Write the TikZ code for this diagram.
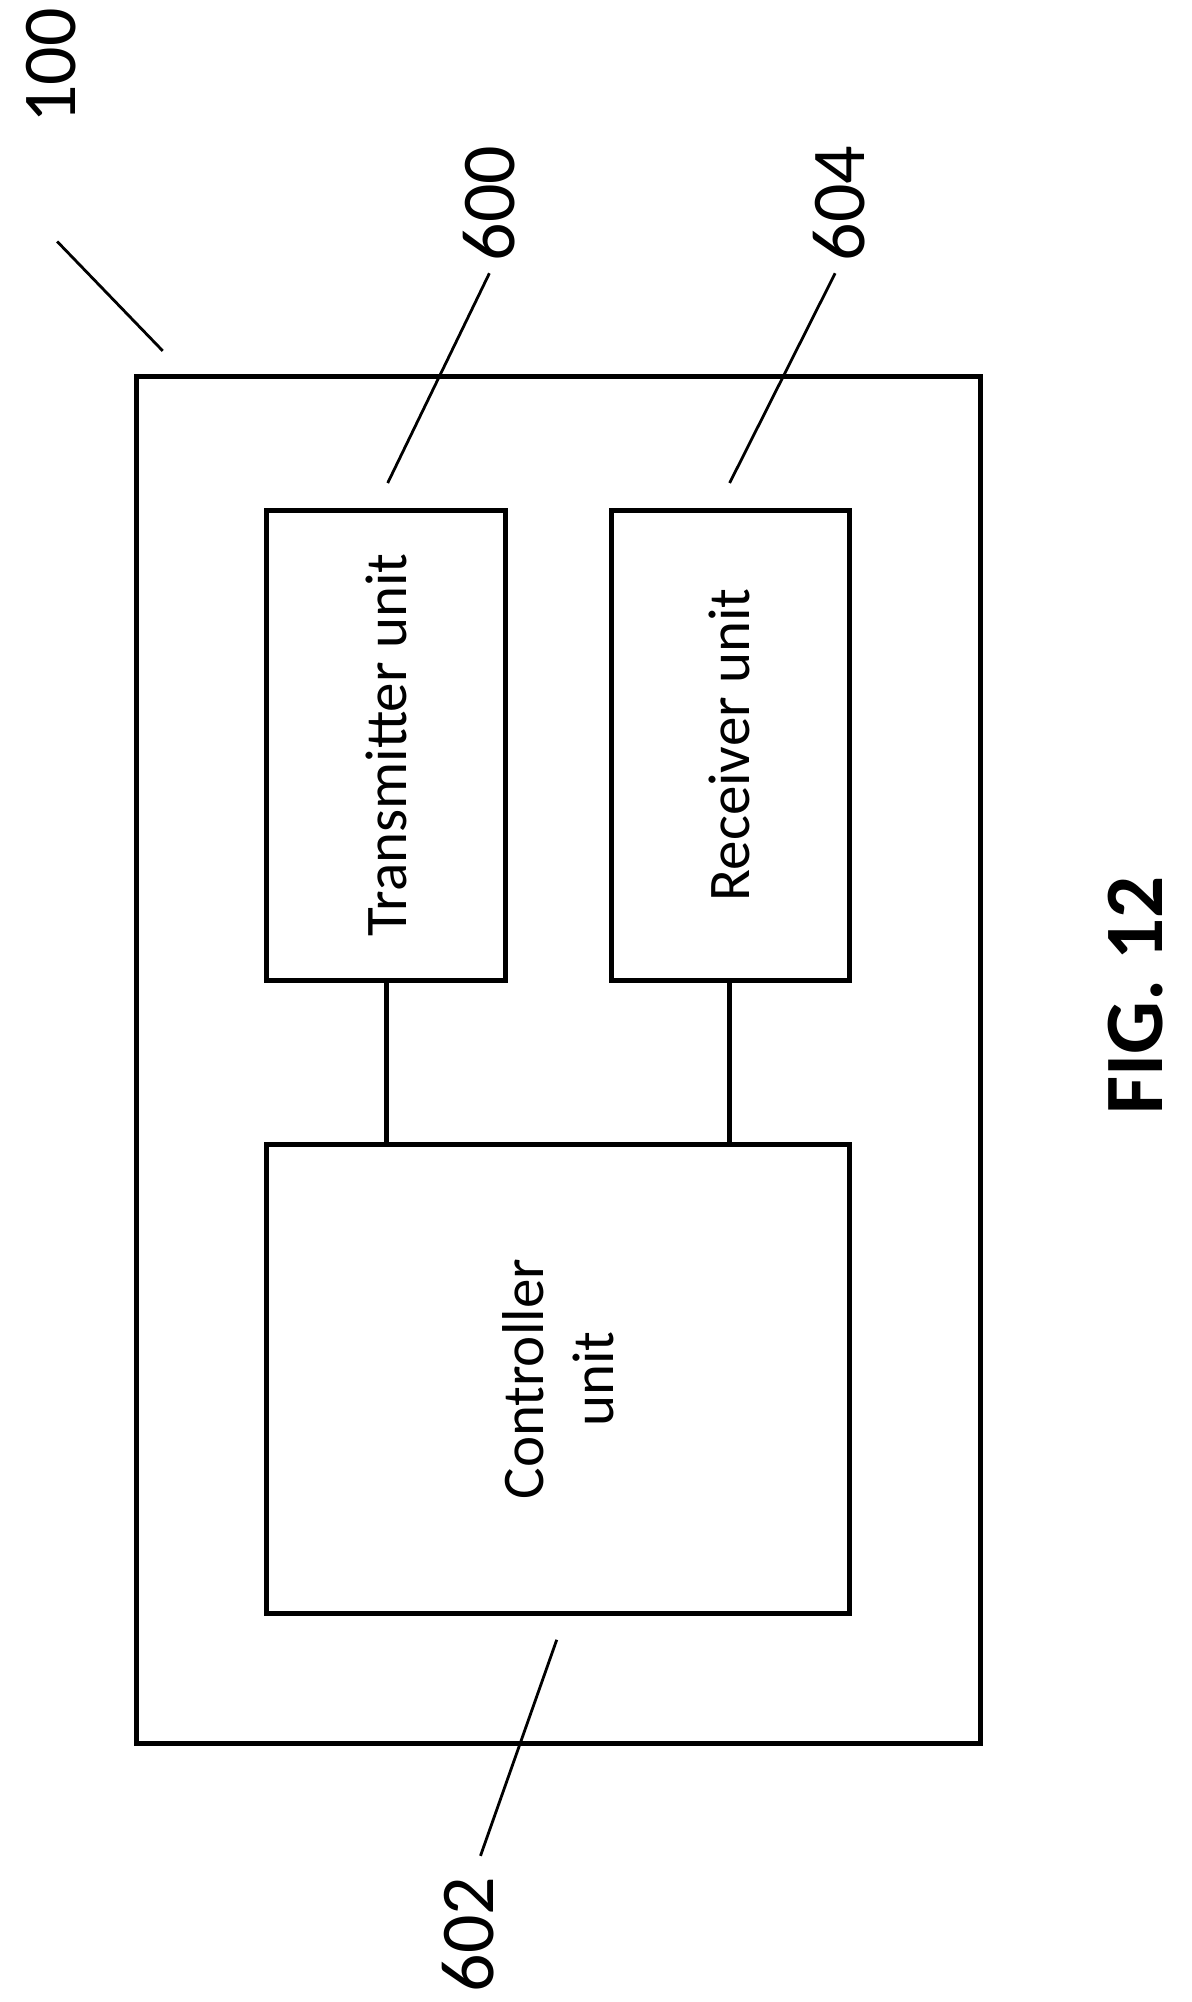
\documentclass[tikz,border=0pt]{standalone}
\usepackage{fontspec}
\setmainfont{Carlito}
\begin{document}
\begin{tikzpicture}[x=1.271pt,y=-1.271pt,
 box/.style={draw,line width=5pt},
 ln/.style={line width=2.8pt},
 num/.style={rotate=90,font=\fontsize{76}{80}\selectfont},
 txt/.style={rotate=90,font=\fontsize{59}{70}\selectfont,align=center}]
\useasboundingbox (0,0) rectangle (937,1575);
\draw[box] (107,296) rectangle (771,1372);
\draw[box] (210,402) rectangle (398,771);
\draw[box] (481,402) rectangle (668,771);
\draw[box] (210,900) rectangle (668,1269);
\node[txt] (tx) at (304,586) {Transmitter unit};
\node[txt] (rx) at (574,586) {Receiver unit};
\node[txt] (ct) at (439,1085) {Controller\\unit};
\coordinate (t1) at (304,771); \coordinate (t2) at (304,900);
\coordinate (r1) at (574,771); \coordinate (r2) at (574,900);
\draw[line width=4.5pt] (t1) -- (t2);
\draw[line width=4.5pt] (r1) -- (r2);
\node[num] (n100) at (40,52) {100};
\node[num] (n600) at (385,160) {600};
\node[num] (n604) at (660,160) {604};
\node[num] (n602) at (368,1522) {602};
\coordinate (a1) at (45,190); \coordinate (a2) at (128,276);
\coordinate (b1) at (385,215); \coordinate (b2) at (305,380);
\coordinate (c1) at (657,215); \coordinate (c2) at (574,380);
\coordinate (d1) at (438,1290); \coordinate (d2) at (378,1460);
\draw[ln] (a1)--(a2); \draw[ln] (b1)--(b2); \draw[ln] (c1)--(c2); \draw[ln] (d1)--(d2);
\node[rotate=90,font=\fontsize{83}{90}\selectfont\bfseries] (fig) at (893,783) {FIG. 12};
\end{tikzpicture}
\end{document}
